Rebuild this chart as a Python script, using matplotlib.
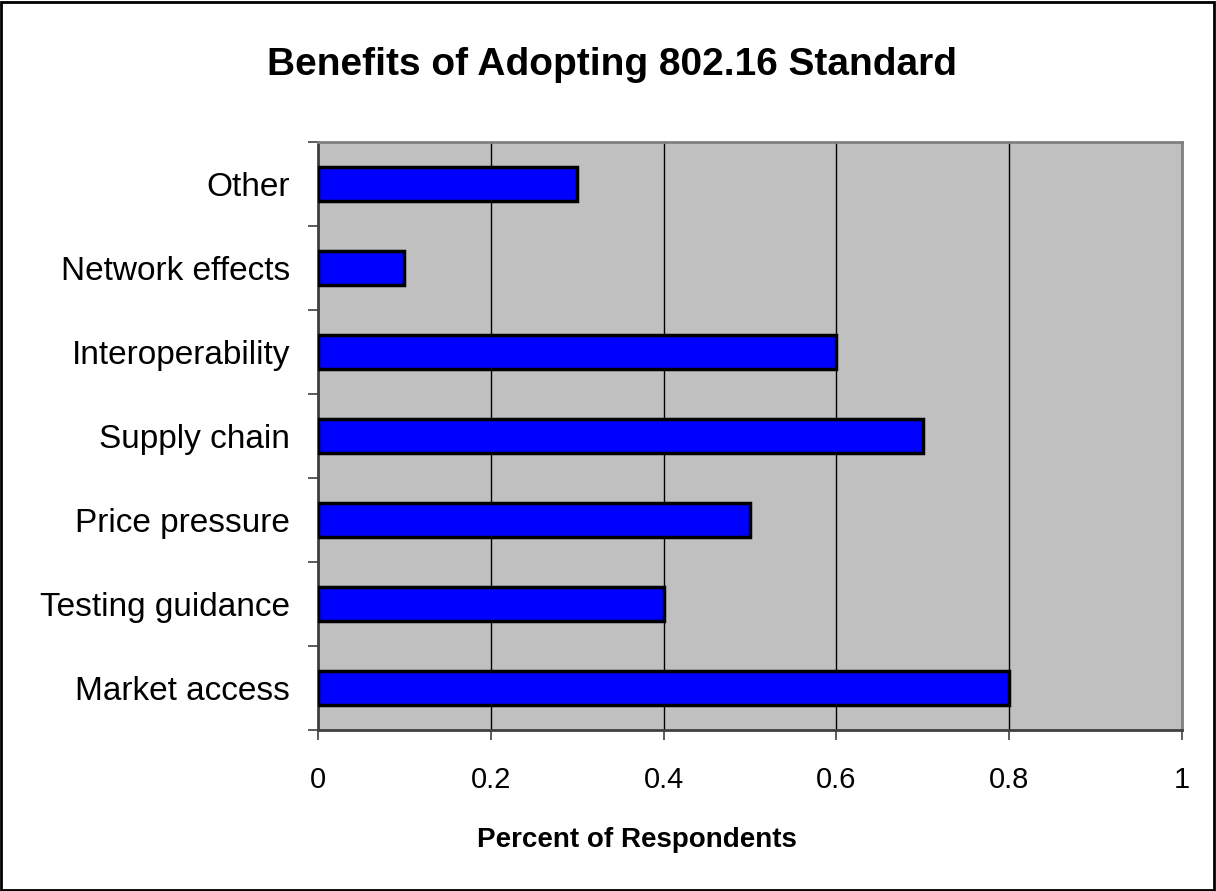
import matplotlib.pyplot as plt
from matplotlib.patches import Rectangle
import numpy as np

plt.rcParams['font.family'] = ['Liberation Sans', 'DejaVu Sans']

# --- data (bottom to top) ---
categories = ['Market access', 'Testing guidance', 'Price pressure', 'Supply chain',
              'Interoperability', 'Network effects', 'Other']
values = [0.8, 0.4, 0.5, 0.7, 0.6, 0.1, 0.3]
xticks = [0, 0.2, 0.4, 0.6, 0.8, 1]
xtick_labels = ['0', '0.2', '0.4', '0.6', '0.8', '1']


def main():
    fig = plt.figure(figsize=(12.16, 8.91), dpi=100)
    ax = fig.add_axes([318 / 1216, 1 - 730 / 891, 864 / 1216, 588 / 891])
    ax.set_facecolor('#c0c0c0')

    y = np.arange(len(categories))
    ax.barh(y, values, height=0.4, color='#0000ff', edgecolor='black', linewidth=2.5, zorder=3)

    ax.set_xlim(0, 1)
    ax.set_ylim(-0.5, len(categories) - 0.5)
    ax.set_xticks(xticks)
    ax.set_xticklabels(xtick_labels, fontsize=21)
    ax.set_yticks(y)
    ax.set_yticklabels(categories, fontsize=24)
    ax.set_yticks(np.arange(len(categories) + 1) - 0.5, minor=True)
    ax.tick_params(axis='y', which='major', length=0, pad=20)
    ax.tick_params(axis='y', which='minor', length=7, width=1.2, color='#404040')
    ax.tick_params(axis='x', which='major', length=7, width=1.2, pad=19, color='#404040')

    ax.grid(axis='x', color='black', linewidth=1, zorder=1)
    ax.set_axisbelow(True)

    for s in ('top', 'right'):
        ax.spines[s].set_color('#808080')
        ax.spines[s].set_linewidth(2)
    for s in ('left', 'bottom'):
        ax.spines[s].set_color('#404040')
        ax.spines[s].set_linewidth(2)

    fig.text(612 / 1216, 1 - 75 / 891, 'Benefits of Adopting 802.16 Standard',
             ha='center', va='baseline', fontsize=28, fontweight='bold')
    fig.text(637 / 1216, 1 - 847 / 891, 'Percent of Respondents',
             ha='center', va='baseline', fontsize=20, fontweight='bold')

    # border round the whole figure
    fig.patches.append(Rectangle((0.001, 0.001), 0.997, 0.997, transform=fig.transFigure,
                                 fill=False, edgecolor='black', linewidth=2))

    fig.savefig('out.png', dpi=100)


if __name__ == '__main__':
    main()
